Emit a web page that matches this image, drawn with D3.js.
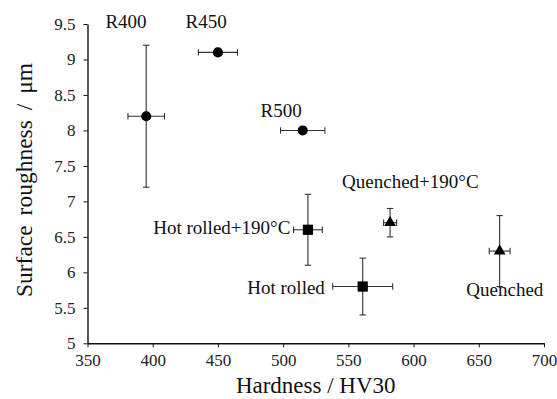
<!DOCTYPE html>
<html>
<head>
<meta charset="utf-8">
<script src="https://cdn.jsdelivr.net/npm/d3@7/dist/d3.min.js"></script>
<style>
  html, body { margin: 0; padding: 0; background: #fff; }
</style>
</head>
<body>
<div id="chart"></div>
<script>
// Data
const groups = ['R400', 'R450', 'R500', 'Hot rolled+190°C', 'Hot rolled', 'Quenched+190°C', 'Quenched']
const hardness = [395, 450, 515, 519, 561, 582, 666]
const hardnessErr = [14, 15, 17, 11, 23, 5, 8]
const roughness = [8.2, 9.1, 8.0, 6.6, 5.8, 6.7, 6.3]
const roughnessErr = [1.0, 0, 0, 0.5, 0.4, 0.2, 0.5]
const markers = ['circle', 'circle', 'circle', 'square', 'square', 'triangle', 'triangle']

const xTicks = [350, 400, 450, 500, 550, 600, 650, 700]
const yTicks = [5, 5.5, 6, 6.5, 7, 7.5, 8, 8.5, 9, 9.5]

// Label placement (data units) and anchoring
const labelLayout = [
    { x: 379.5, y: 9.44, anchor: 'middle' },
    { x: 441, y: 9.44, anchor: 'middle' },
    { x: 498.5, y: 8.19, anchor: 'middle' },
    { x: 505.5, y: 6.54, anchor: 'end' },
    { x: 532, y: 5.69, anchor: 'end' },
    { x: 597.5, y: 7.19, anchor: 'middle' },
    { x: 670, y: 5.67, anchor: 'middle' }
]

const FONT = '"Liberation Serif", "Times New Roman", serif'
const width = 557, height = 399
const points = groups.map((g, i) => ({
    name: g, x: hardness[i], xe: hardnessErr[i], y: roughness[i], ye: roughnessErr[i], marker: markers[i]
}))

const svg = d3.select('#chart').append('svg')
    .attr('width', width)
    .attr('height', height)

const x = d3.scaleLinear().domain([350, 700]).range([87.5, 544])
const y = d3.scaleLinear().domain([5, 9.5]).range([343.3, 24])

// Axes
const xAxis = d3.axisBottom(x).tickValues(xTicks).tickSize(4).tickSizeOuter(0).tickFormat(d3.format('d'))
const yAxis = d3.axisLeft(y).tickValues(yTicks).tickSize(4).tickSizeOuter(0).tickFormat(d => d)

const gx = svg.append('g')
    .attr('transform', 'translate(0,' + y(5) + ')')
    .call(xAxis)
const gy = svg.append('g')
    .attr('transform', 'translate(' + x(350) + ',0)')
    .call(yAxis)

;[gx, gy].forEach(g => {
    g.attr('font-family', FONT).attr('font-size', 17)
    g.select('.domain').attr('stroke', '#111').attr('stroke-width', 1.4)
    g.selectAll('.tick line').attr('stroke', '#111').attr('stroke-width', 1)
    g.selectAll('.tick text').attr('fill', '#222')
})
gx.selectAll('.tick text').attr('dy', '0.95em')
gy.selectAll('.tick text').attr('x', -12)

// Axis titles
svg.append('text')
    .attr('x', (x(350) + x(700)) / 2)
    .attr('y', 393)
    .attr('text-anchor', 'middle')
    .attr('font-family', FONT)
    .attr('font-size', 23)
    .attr('fill', '#111')
    .text('Hardness / HV30')

svg.append('text')
    .attr('transform', 'translate(32,' + 180 + ') rotate(-90)')
    .attr('text-anchor', 'middle')
    .attr('font-family', FONT)
    .attr('font-size', 23.5)
    .attr('fill', '#111')
    .attr('word-spacing', 4)
    .text('Surface roughness / μm')

// Error bars
const cap = 3.2
const bars = svg.append('g').attr('stroke', '#333').attr('stroke-width', 1.1)
points.forEach(d => {
    if (d.xe > 0) {
        bars.append('line').attr('x1', x(d.x - d.xe)).attr('x2', x(d.x + d.xe)).attr('y1', y(d.y)).attr('y2', y(d.y))
        bars.append('line').attr('x1', x(d.x - d.xe)).attr('x2', x(d.x - d.xe)).attr('y1', y(d.y) - cap).attr('y2', y(d.y) + cap)
        bars.append('line').attr('x1', x(d.x + d.xe)).attr('x2', x(d.x + d.xe)).attr('y1', y(d.y) - cap).attr('y2', y(d.y) + cap)
    }
    if (d.ye > 0) {
        bars.append('line').attr('x1', x(d.x)).attr('x2', x(d.x)).attr('y1', y(d.y - d.ye)).attr('y2', y(d.y + d.ye))
        bars.append('line').attr('x1', x(d.x) - cap).attr('x2', x(d.x) + cap).attr('y1', y(d.y - d.ye)).attr('y2', y(d.y - d.ye))
        bars.append('line').attr('x1', x(d.x) - cap).attr('x2', x(d.x) + cap).attr('y1', y(d.y + d.ye)).attr('y2', y(d.y + d.ye))
    }
})

// Markers
const symbolFor = {
    circle: d3.symbol().type(d3.symbolCircle).size(80),
    square: d3.symbol().type(d3.symbolSquare).size(105),
    triangle: d3.symbol().type(d3.symbolTriangle).size(60)
}
svg.append('g').selectAll('path')
    .data(points)
    .enter()
    .append('path')
    .attr('d', d => symbolFor[d.marker]())
    .attr('transform', d => 'translate(' + x(d.x) + ',' + y(d.y) + ')')
    .attr('fill', '#000')

// Point labels
svg.append('g').selectAll('text')
    .data(points)
    .enter()
    .append('text')
    .attr('x', (d, i) => x(labelLayout[i].x))
    .attr('y', (d, i) => y(labelLayout[i].y))
    .attr('text-anchor', (d, i) => labelLayout[i].anchor)
    .attr('font-family', FONT)
    .attr('font-size', 19)
    .attr('fill', '#111')
    .text(d => d.name)
</script>
</body>
</html>
